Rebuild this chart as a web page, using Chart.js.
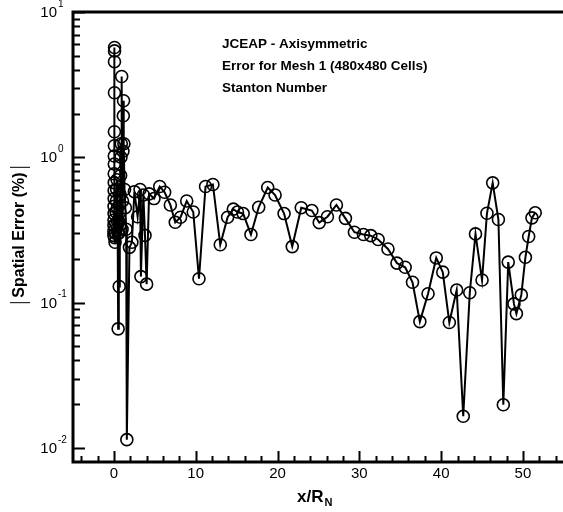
<!DOCTYPE html>
<html>
<head>
<meta charset="utf-8">
<script src="https://cdn.jsdelivr.net/npm/chart.js@4"></script>
<style>
  html, body { margin: 0; padding: 0; background: #fff; overflow: hidden; }
  #wrap { position: relative; width: 569px; height: 512px; }
</style>
</head>
<body>
<div id="wrap"><canvas id="errChart"></canvas></div>
<script>
// ─── Data ──────────────────────────────────────
const xPos = [
  0.00, 0.00, 0.01, 0.01, 0.02, 0.02, 0.03, 0.03, 0.04, 0.04,
  0.05, 0.05, 0.06, 0.06, 0.07, 0.07, 0.08, 0.08, 0.10, 0.14,
  0.18, 0.22, 0.26, 0.30, 0.34, 0.38, 0.42, 0.46, 0.50, 0.52,
  0.58, 0.62, 0.65, 0.70, 0.74, 0.78, 0.82, 0.86, 0.90, 0.95,
  1.00, 1.05, 1.10, 1.15, 1.18, 1.22, 1.30, 1.40, 1.50, 1.58,
  1.90, 2.20, 2.50, 2.90, 3.20, 3.30, 3.60, 3.80, 4.00, 4.30,
  4.90, 5.60, 6.20, 6.90, 7.50, 8.15, 8.90, 9.70, 10.4, 11.2,
  12.1, 13.0, 13.9, 14.6, 15.1, 15.8, 16.75, 17.7, 18.8, 19.7,
  20.8, 21.8, 22.9, 24.2, 25.1, 26.1, 27.2, 28.3, 29.4, 30.5,
  31.4, 32.3, 33.5, 34.6, 35.6, 36.5, 37.4, 38.4, 39.4, 40.2,
  41.0, 41.9, 42.7, 43.5, 44.2, 45.0, 45.6, 46.3, 47.0, 47.6,
  48.2, 48.9, 49.2, 49.8, 50.3, 50.7, 51.1, 51.5
];
const errPct = [
  0.29, 0.31, 0.34, 0.37, 0.41, 0.46, 0.52, 0.59, 0.67, 0.77,
  0.90, 1.02, 1.20, 1.50, 2.78, 4.55, 5.40, 5.70, 0.28, 0.26,
  0.30, 0.35, 0.42, 0.50, 0.60, 0.70, 0.45, 0.36, 0.30, 0.066,
  0.30, 0.36, 0.129, 0.34, 0.42, 0.55, 0.75, 1.00, 1.24, 3.60,
  0.32, 0.50, 1.10, 1.93, 2.45, 1.24, 0.60, 0.45, 0.32, 0.0114,
  0.24, 0.26, 0.58, 0.39, 0.60, 0.151, 0.55, 0.29, 0.134, 0.56,
  0.52, 0.63, 0.575, 0.47, 0.357, 0.387, 0.50, 0.42, 0.146, 0.63,
  0.65, 0.25, 0.387, 0.44, 0.42, 0.41, 0.294, 0.453, 0.62, 0.55,
  0.41, 0.243, 0.45, 0.43, 0.355, 0.39, 0.47, 0.38, 0.305, 0.294,
  0.289, 0.272, 0.234, 0.187, 0.175, 0.138, 0.074, 0.115, 0.203, 0.162,
  0.073, 0.122, 0.0165, 0.117, 0.297, 0.143, 0.412, 0.667, 0.373, 0.0198,
  0.19, 0.098, 0.084, 0.113, 0.205, 0.285, 0.383, 0.415
];
const xTickVals = [0, 10, 20, 30, 40, 50];
const yDecades = [-2, -1, 0, 1];
const noteLines = ['JCEAP - Axisymmetric', 'Error for Mesh 1 (480x480 Cells)', 'Stanton Number'];

const FONT = '"Liberation Sans", Arial, Helvetica, sans-serif';

// ─── Tecplot-style frame, inward ticks, labels ──
const framePlugin = {
  id: 'frame',
  afterDraw(chart) {
    const { ctx, chartArea: a, scales: { x, y } } = chart;
    ctx.save();
    ctx.strokeStyle = '#000';
    ctx.fillStyle = '#000';

    // frame (right side sits off the visible edge)
    ctx.lineWidth = 3;
    ctx.beginPath();
    ctx.moveTo(a.right + 2, a.top);
    ctx.lineTo(a.left, a.top);
    ctx.lineTo(a.left, a.bottom);
    ctx.lineTo(a.right + 2, a.bottom);
    ctx.stroke();

    // y ticks (log)
    ctx.lineWidth = 2;
    ctx.beginPath();
    yDecades.forEach(d => {
      for (let k = 1; k <= 9; k++) {
        const v = k * Math.pow(10, d);
        if (v < y.min || v > y.max) continue;
        const py = Math.round(y.getPixelForValue(v)) + 0.5;
        const len = k === 1 ? 12 : 7;
        ctx.moveTo(a.left, py);
        ctx.lineTo(a.left + len, py);
      }
    });
    // x ticks
    for (let v = -4; v <= 54; v += 2) {
      const px = Math.round(x.getPixelForValue(v)) + 0.5;
      const len = v % 10 === 0 ? 11 : 6;
      ctx.moveTo(px, a.bottom);
      ctx.lineTo(px, a.bottom - len);
    }
    ctx.stroke();

    // x tick labels
    ctx.font = `15px ${FONT}`;
    ctx.textAlign = 'center';
    ctx.textBaseline = 'middle';
    xTickVals.forEach(v => ctx.fillText(String(v), x.getPixelForValue(v), a.bottom + 12));

    // y tick labels 10^n
    yDecades.forEach(d => {
      const py = y.getPixelForValue(Math.pow(10, d));
      const exp = String(d);
      ctx.font = `10px ${FONT}`;
      ctx.textAlign = 'left';
      ctx.textBaseline = 'middle';
      const expX = 58;
      ctx.fillText(exp, expX, py - 8);
      ctx.font = `15px ${FONT}`;
      ctx.textAlign = 'right';
      ctx.fillText('10', expX - 1, py + 1);
    });

    // y title with absolute-value bars
    ctx.save();
    ctx.translate(20, 235);
    ctx.rotate(-Math.PI / 2);
    ctx.font = `bold 16px ${FONT}`;
    ctx.textAlign = 'center';
    ctx.textBaseline = 'middle';
    ctx.fillText('Spatial Error (%)', 0, 0);
    const tw = ctx.measureText('Spatial Error (%)').width;
    ctx.lineWidth = 1;
    ctx.beginPath();
    ctx.moveTo(-tw / 2 - 5, -10); ctx.lineTo(-tw / 2 - 5, 10);
    ctx.moveTo(tw / 2 + 5, -10); ctx.lineTo(tw / 2 + 5, 10);
    ctx.stroke();
    ctx.restore();

    // x title x/R_N
    ctx.font = `bold 17px ${FONT}`;
    ctx.textAlign = 'left';
    ctx.textBaseline = 'alphabetic';
    const main = 'x/R';
    const mw = ctx.measureText(main).width;
    const tx = 297;
    ctx.fillText(main, tx, 502);
    ctx.font = `bold 11px ${FONT}`;
    ctx.fillText('N', tx + mw + 1, 506);

    // annotation
    ctx.font = `bold 13.5px ${FONT}`;
    ctx.textAlign = 'left';
    ctx.textBaseline = 'middle';
    noteLines.forEach((t, i) => ctx.fillText(t, 222, 44 + i * 22));

    ctx.restore();
  }
};

new Chart(document.getElementById('errChart'), {
  type: 'line',
  data: {
    datasets: [{
      data: xPos.map((v, i) => ({ x: v, y: errPct[i] })),
      borderColor: '#000',
      borderWidth: 2,
      tension: 0,
      pointStyle: 'circle',
      pointRadius: 6,
      pointBorderWidth: 1.6,
      pointBorderColor: '#000',
      pointBackgroundColor: 'rgba(0,0,0,0)',
      clip: false,
    }],
  },
  options: {
    responsive: true,
    maintainAspectRatio: false,
    animation: false,
    layout: { padding: { top: 12, right: 0, left: 0, bottom: 0 } },
    plugins: { legend: { display: false }, tooltip: { enabled: false } },
    scales: {
      x: {
        type: 'linear', min: -5, max: 54.7,
        grid: { display: false }, border: { display: false },
        ticks: { display: false },
        afterFit(s) { s.height = 50; },
      },
      y: {
        type: 'logarithmic', min: 0.008, max: 10,
        grid: { display: false }, border: { display: false },
        ticks: { display: false },
        afterFit(s) { s.width = 73; },
      },
    },
  },
  plugins: [framePlugin],
});
</script>
</body>
</html>
